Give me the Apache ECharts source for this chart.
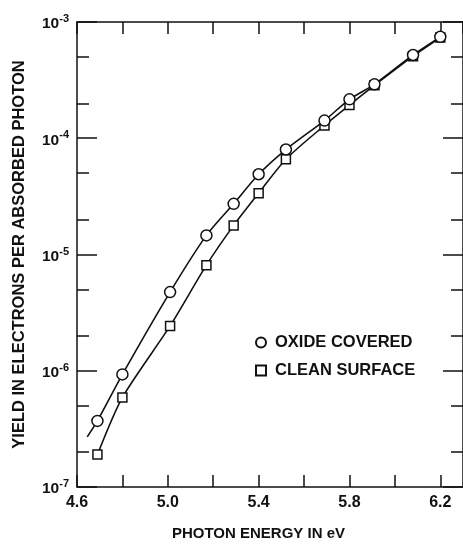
<!DOCTYPE html>
<html>
<head>
<meta charset="utf-8">
<script src="https://cdn.jsdelivr.net/npm/echarts@6/dist/echarts.min.js"></script>
<style>
html,body{margin:0;padding:0;background:#fff;}
#chart{width:463px;height:546px;}
</style>
</head>
<body>
<div id="chart"></div>
<script>
// photon energy (eV) of the measured points
var energy = [4.69, 4.80, 5.01, 5.17, 5.29, 5.40, 5.52, 5.69, 5.80, 5.91, 6.08, 6.20];
// yield, electrons per absorbed photon
var oxideYield = [3.7e-7, 9.3e-7, 4.75e-6, 1.46e-5, 2.73e-5, 4.9e-5, 8.0e-5, 1.42e-4, 2.16e-4, 2.91e-4, 5.2e-4, 7.45e-4];
var cleanYield = [1.9e-7, 5.9e-7, 2.43e-6, 8.1e-6, 1.78e-5, 3.37e-5, 6.6e-5, 1.29e-4, 1.93e-4, 2.85e-4, 5.08e-4, 7.35e-4];
// the hand-drawn oxide curve starts a little below its first point
var oxideCurveStart = [4.645, 2.7e-7];
var minorTicks = [2e-7, 5e-7, 2e-6, 5e-6, 2e-5, 5e-5, 2e-4, 5e-4];
var xLabelsShown = [4.6, 5.0, 5.4, 5.8, 6.2];

var font = '"Liberation Sans", Arial, Helvetica, sans-serif';
var ink = '#111';

function pts(ys, start){
    var out = [];
    if(start){ out.push({value: start, symbol: 'none'}); }
    for(var i=0;i<energy.length;i++){ out.push([energy[i], ys[i]]); }
    return out;
}

var chart = echarts.init(document.getElementById('chart'));

function yAxisBase(pos, major){
    return {
        type: 'log', logBase: 10, min: 1e-7, max: 1e-3,
        position: pos,
        axisLine: {show: major, lineStyle: {color: ink, width: 1.5}},
        splitLine: {show: false},
        axisTick: major
            ? {show: true, inside: true, length: 20, lineStyle: {color: ink, width: 1.5}}
            : {show: true, inside: true, length: 12, customValues: minorTicks, lineStyle: {color: ink, width: 1.5}},
        axisLabel: {show: false}
    };
}

var yLeft = yAxisBase('left', true);
yLeft.name = 'YIELD IN ELECTRONS PER ABSORBED PHOTON';
yLeft.nameLocation = 'middle';
yLeft.nameGap = 49;
yLeft.nameTextStyle = {fontFamily: font, fontWeight: 'bold', fontSize: 16.5, color: ink};
yLeft.axisLabel = {
    show: true, margin: 8, fontFamily: font, fontWeight: 'bold', color: ink,
    formatter: function(v){
        var e = Math.round(Math.log(v)/Math.LN10);
        return '{b|10}{s|' + e + '}';
    },
    rich: {
        b: {fontFamily: font, fontWeight: 'bold', fontSize: 15.5, color: ink, padding: [4,0,0,0]},
        s: {fontFamily: font, fontWeight: 'bold', fontSize: 11, color: ink, padding: [0,0,6,0]}
    }
};

var option = {
    backgroundColor: '#fff',
    animation: false,
    grid: {left: 77, top: 22, right: -3, bottom: 54, containLabel: false},
    legend: {
        orient: 'vertical', left: 250, top: 329, itemGap: 11,
        itemWidth: 10, itemHeight: 10, icon: 'circle',
        textStyle: {fontFamily: font, fontWeight: 'bold', fontSize: 16.5, color: ink, padding: [0,0,0,4]},
        data: [
            {name: 'OXIDE COVERED', icon: 'circle'},
            {name: 'CLEAN SURFACE', icon: 'rect'}
        ]
    },
    xAxis: [{
        type: 'value', min: 4.6, max: 6.3, interval: 0.2,
        position: 'bottom',
        name: 'PHOTON ENERGY IN eV', nameLocation: 'middle', nameGap: 39,
        nameTextStyle: {fontFamily: font, fontWeight: 'bold', fontSize: 15, color: ink, padding: [0, 23, 0, 0]},
        axisLine: {lineStyle: {color: ink, width: 1.5}},
        splitLine: {show: false},
        axisTick: {inside: true, length: 12, lineStyle: {color: ink, width: 1.5}},
        axisLabel: {
            margin: 8, fontFamily: font, fontWeight: 'bold', fontSize: 16, color: ink,
            showMaxLabel: false,
            formatter: function(v){
                for(var i=0;i<xLabelsShown.length;i++){
                    if(Math.abs(v - xLabelsShown[i]) < 1e-6) return v.toFixed(1);
                }
                return '';
            }
        }
    }, {
        type: 'value', min: 4.6, max: 6.3, interval: 0.2,
        position: 'top',
        axisLine: {lineStyle: {color: ink, width: 1.5}},
        splitLine: {show: false},
        axisTick: {inside: true, length: 12, lineStyle: {color: ink, width: 1.5}},
        axisLabel: {show: false}
    }],
    yAxis: [yLeft, yAxisBase('left', false), yAxisBase('right', true), yAxisBase('right', false)],
    series: [{
        name: 'OXIDE COVERED', type: 'line', smooth: 0.25,
        data: pts(oxideYield, oxideCurveStart),
        symbol: 'circle', symbolSize: 11, showAllSymbol: true,
        lineStyle: {color: ink, width: 1.6},
        itemStyle: {color: '#fff', borderColor: ink, borderWidth: 1.5},
        z: 3
    }, {
        name: 'CLEAN SURFACE', type: 'line', smooth: 0.25,
        data: pts(cleanYield, null),
        symbol: 'rect', symbolSize: 9, showAllSymbol: true,
        lineStyle: {color: ink, width: 1.6},
        itemStyle: {color: '#fff', borderColor: ink, borderWidth: 1.5},
        z: 2
    }]
};
chart.setOption(option);
</script>
</body>
</html>
